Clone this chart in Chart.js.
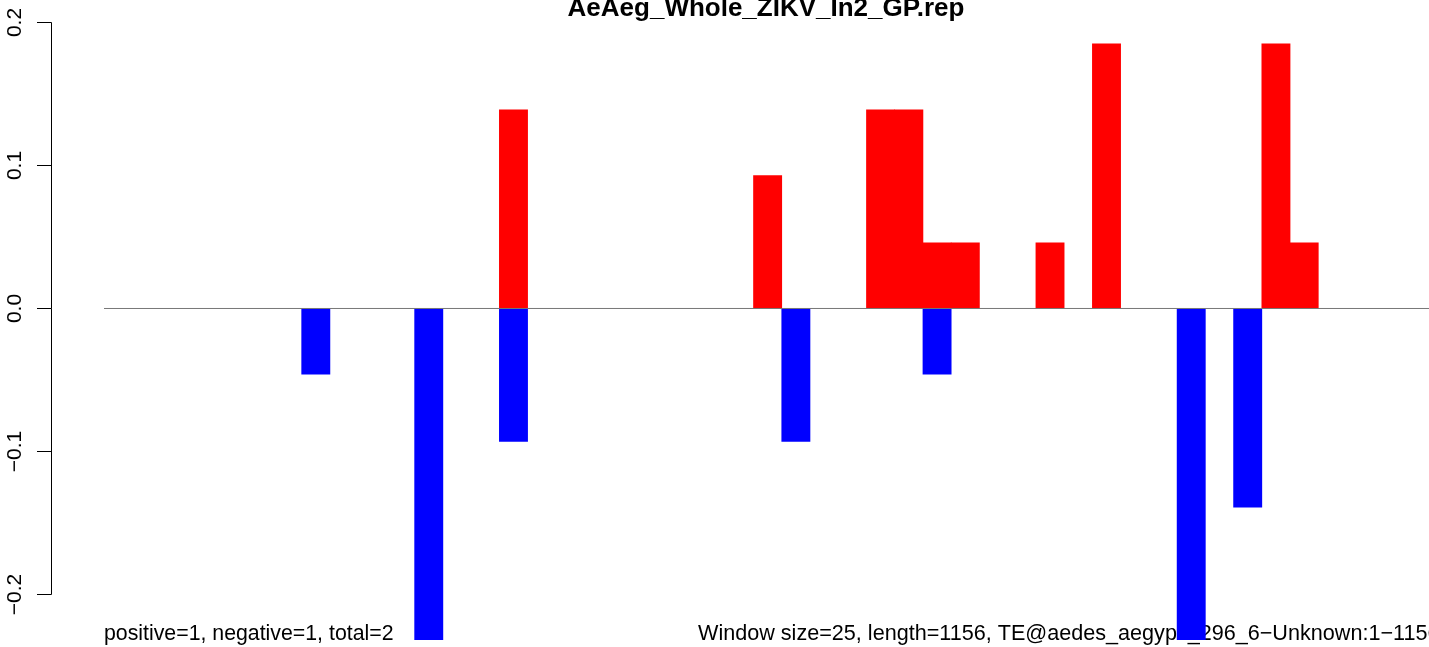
<!DOCTYPE html>
<html>
<head>
<meta charset="utf-8">
<script src="https://cdn.jsdelivr.net/npm/chart.js@4"></script>
<style>
  html, body { margin: 0; padding: 0; background: #fff; }
  #wrap { width: 1429px; height: 647px; }
</style>
</head>
<body>
<div id="wrap"><canvas id="rep-chart" width="1429" height="647"></canvas></div>
<script>
// one bin per 25 bp window, 47 windows over length 1156
const binCount = 47;
const bins = Array.from({ length: binCount }, (_, i) => i + 0.5);

// positive strand ratios (red), null = empty window
const positiveValues = [
    null, null, null, null, null, null, null, null, null, null,
    null, null, null, null, 0.139, null, null, null, null, null,
    null, null, null, 0.093, null, null, null, 0.139, 0.139, 0.046,
    0.046, null, null, 0.046, null, 0.185, null, null, null, null,
    null, 0.185, 0.046, null, null, null, null
];

// negative strand ratios (blue)
const negativeValues = [
    null, null, null, null, null, null, null, -0.046, null, null,
    null, -0.232, null, null, -0.093, null, null, null, null, null,
    null, null, null, null, -0.093, null, null, null, null, -0.046,
    null, null, null, null, null, null, null, null, -0.232, null,
    -0.139, null, null, null, null, null, null
];

const yTicks = [-0.2, -0.1, 0, 0.1, 0.2];
const yTickLabels = ['\u22120.2', '\u22120.1', '0.0', '0.1', '0.2'];

const titleText = 'AeAeg_Whole_ZIKV_In2_GP.rep';
const leftNote = 'positive=1, negative=1, total=2';
const rightNote = 'Window size=25, length=1156, TE@aedes_aegypti_296_6\u2212Unknown:1\u22121156';

const FONT = '"Liberation Sans", Arial, Helvetica, sans-serif';

// Texts go under the bars (R draws the bars over the bottom note)
const textPlugin = {
    id: 'rTexts',
    beforeDatasetsDraw(chart) {
        const ctx = chart.ctx;
        ctx.save();
        ctx.fillStyle = '#000';
        ctx.textBaseline = 'alphabetic';

        ctx.font = 'bold 26px ' + FONT;
        ctx.textAlign = 'center';
        ctx.fillText(titleText, 766, 16);

        ctx.font = '21.3px ' + FONT;
        ctx.textAlign = 'left';
        ctx.fillText(leftNote, 104, 640);
        ctx.font = '21.6px ' + FONT;
        ctx.fillText(rightNote, 698, 640);
        ctx.restore();
    }
};

// Left axis in R style: line only over the tick range, rotated labels
const axisPlugin = {
    id: 'rAxis',
    afterDraw(chart) {
        const ctx = chart.ctx;
        const y = chart.scales.y;
        const x0 = chart.chartArea.left;
        const top = y.getPixelForValue(yTicks[yTicks.length - 1]);
        const bottom = y.getPixelForValue(yTicks[0]);
        ctx.save();
        ctx.strokeStyle = '#000';
        ctx.lineWidth = 1;
        ctx.beginPath();
        ctx.moveTo(x0 + 0.5, top);
        ctx.lineTo(x0 + 0.5, bottom);
        yTicks.forEach(v => {
            const py = Math.round(y.getPixelForValue(v)) + 0.5;
            ctx.moveTo(x0 + 0.5, py);
            ctx.lineTo(x0 - 14, py);
        });
        ctx.stroke();

        ctx.fillStyle = '#000';
        ctx.font = '21px ' + FONT;
        ctx.textAlign = 'center';
        ctx.textBaseline = 'alphabetic';
        yTicks.forEach((v, i) => {
            const py = y.getPixelForValue(v);
            ctx.save();
            ctx.translate(21, py);
            ctx.rotate(-Math.PI / 2);
            ctx.fillText(yTickLabels[i], 0, 0);
            ctx.restore();
        });
        ctx.restore();
    }
};

const ctx = document.getElementById('rep-chart').getContext('2d');
new Chart(ctx, {
    type: 'bar',
    data: {
        datasets: [
            {
                type: 'line',
                label: 'zero',
                data: [{ x: 0, y: 0 }, { x: binCount, y: 0 }],
                borderColor: '#777777',
                borderWidth: 1,
                pointRadius: 0,
                order: 0
            },
            {
                label: 'positive',
                data: bins.map((b, i) => ({ x: b, y: positiveValues[i] })),
                backgroundColor: '#ff0000',
                borderWidth: 0,
                grouped: false,
                barPercentage: 1,
                categoryPercentage: 1,
                order: 2
            },
            {
                label: 'negative',
                data: bins.map((b, i) => ({ x: b, y: negativeValues[i] })),
                backgroundColor: '#0000ff',
                borderWidth: 0,
                grouped: false,
                barPercentage: 1,
                categoryPercentage: 1,
                order: 1
            }
        ]
    },
    options: {
        responsive: false,
        animation: false,
        devicePixelRatio: 1,
        layout: { padding: { left: 51, right: 0, top: 0, bottom: 7 } },
        plugins: {
            legend: { display: false },
            tooltip: { enabled: false },
            title: { display: false }
        },
        scales: {
            x: {
                type: 'linear',
                display: false,
                offset: false,
                min: -1.877,
                max: 46.92
            },
            y: {
                display: false,
                min: -0.23182,
                max: 0.21573
            }
        }
    },
    plugins: [textPlugin, axisPlugin]
});
</script>
</body>
</html>
